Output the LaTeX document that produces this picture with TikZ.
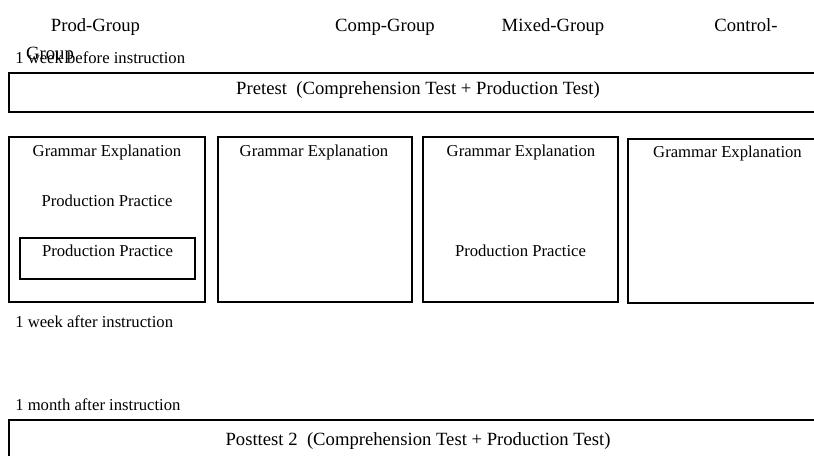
\documentclass[tikz,border=0pt]{standalone}
\usepackage{fontspec}
\setmainfont{Liberation Serif}
\tikzset{
  grouplabel/.style={font=\fontsize{14}{16}\selectfont,inner sep=0pt,anchor=base},
  testtext/.style={font=\fontsize{14}{16}\selectfont,inner sep=0pt,anchor=base},
  timelabel/.style={font=\fontsize{12.5}{15}\selectfont,inner sep=0pt,anchor=base west},
  steptext/.style={font=\fontsize{12.5}{15}\selectfont,inner sep=0pt,anchor=base},
  panel/.style={draw,line width=0.8pt,inner sep=0pt}
}
\begin{document}
\begin{tikzpicture}[x=0.75pt,y=-0.75pt]
\useasboundingbox (0,0) rectangle (814,455);
% group names
\node[grouplabel] (prod) at (95.5,31) {Prod-Group};
\node[grouplabel] (comp) at (385,31) {Comp-Group};
\node[grouplabel] (mixed) at (553,31) {Mixed-Group};
\node[grouplabel] (ctrl) at (746,31) {Control-};
\node[grouplabel] (ctrlb) at (50,59) {Group};
% pretest
\node[timelabel] (before) at (15,63) {1 week before instruction};
\node[panel,minimum width=613.5pt,minimum height=29.25pt] (pre) at (418,92.5) {};
\node[testtext] (pretxt) at (418,94.5) {Pretest~ (Comprehension Test + Production Test)};
% instruction
\node[panel,minimum width=147pt,minimum height=123.75pt] (prodbox) at (107,219.5) {};
\node[panel,minimum width=145.5pt,minimum height=123.75pt] (compbox) at (315,219.5) {};
\node[panel,minimum width=146.25pt,minimum height=123.75pt] (mixedbox) at (520.5,219.5) {};
\node[panel,minimum width=147pt,minimum height=123pt] (ctrlbox) at (726,221) {};
\node[steptext] (prodge) at (107,156) {Grammar Explanation};
\node[steptext] (prodpp) at (107,206) {Production Practice};
\node[panel,minimum width=131.25pt,minimum height=30.75pt] (prodin) at (107.5,258.5) {};
\node[steptext] (prodinpp) at (107.5,256) {Production Practice};
\node[steptext] (compge) at (314,156) {Grammar Explanation};
\node[steptext] (mixedge) at (521,156) {Grammar Explanation};
\node[steptext] (mixedpp) at (520.5,256) {Production Practice};
\node[steptext] (ctrlge) at (727.5,157) {Grammar Explanation};
% posttests
\node[timelabel] (after) at (15,327) {1 week after instruction};
\node[timelabel] (month) at (15,410.5) {1 month after instruction};
\node[panel,minimum width=613.5pt,minimum height=37.5pt] (post) at (418,445) {};
\node[testtext] (posttxt) at (418,445) {Posttest 2~ (Comprehension Test + Production Test)};
\end{tikzpicture}
\end{document}
